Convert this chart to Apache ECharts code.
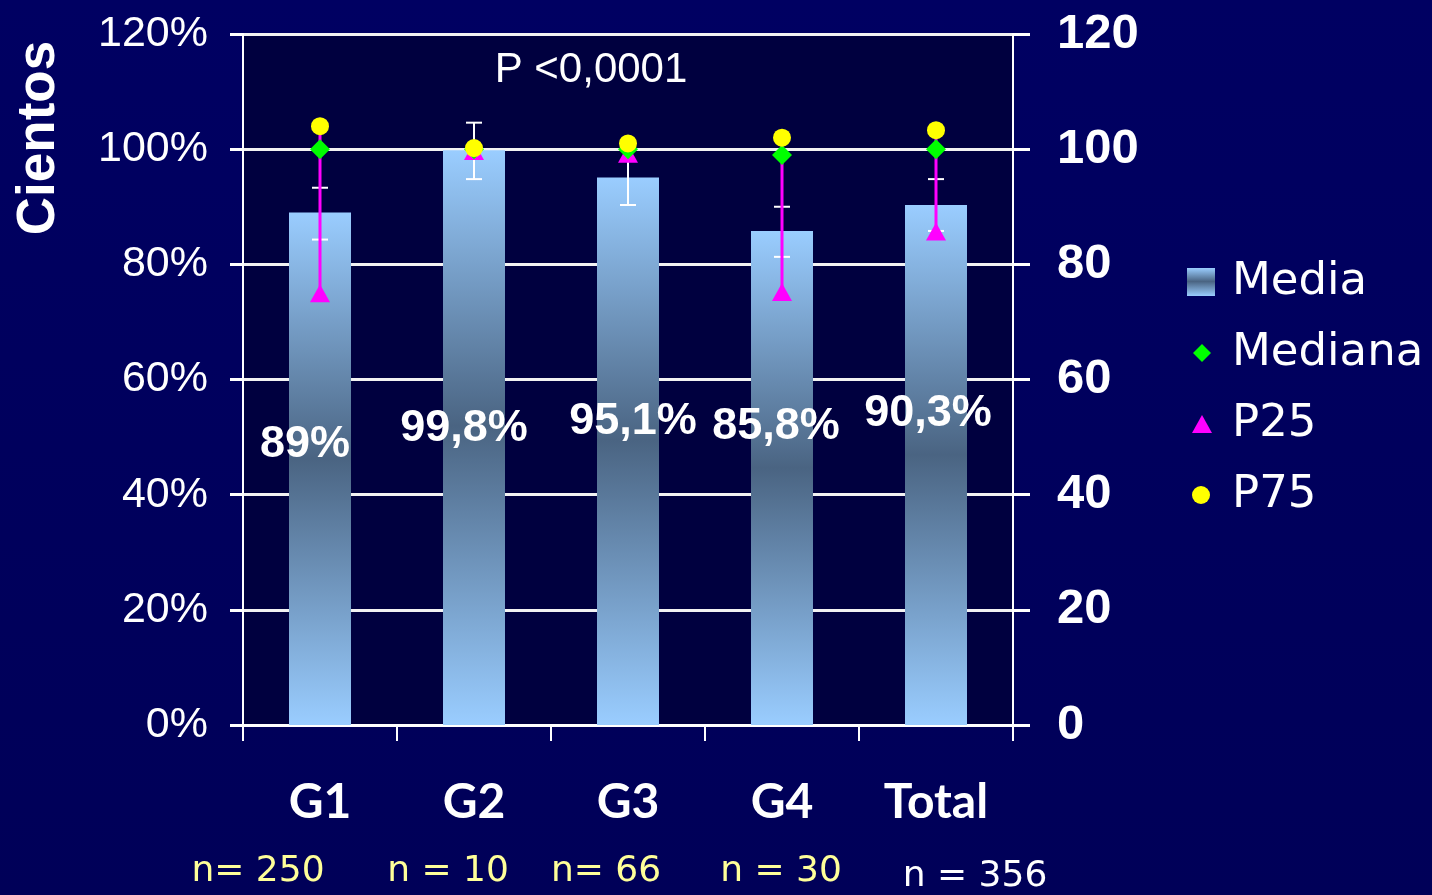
<!DOCTYPE html>
<html>
<head>
<meta charset="utf-8">
<title>Media, Mediana, P25 y P75 por grupo</title>
<script src="https://cdn.jsdelivr.net/npm/echarts@6.0.0/dist/echarts.min.js"></script>
<style>
  html, body { margin: 0; padding: 0; background: #00005c; }
  #chart { width: 1432px; height: 895px; }
</style>
</head>
<body>
<div id="chart"></div>
<script>
// Groups and their values (percent)
const categories = ['G1', 'G2', 'G3', 'G4', 'Total'];
const mediaValues = [89, 99.8, 95.1, 85.8, 90.3];
const errLow = [84.3, 94.8, 90.3, 81.3, 85.8];
const errHigh = [93.3, 104.6, 99.9, 90.0, 94.8];
const medianaValues = [100, 100, 100, 99.0, 100];
const p25Values = [75.0, 99.7, 99.2, 75.2, 85.7];
const p75Values = [104.0, 100.2, 101.0, 102.0, 103.3];
const sampleSizes = ['n= 250', 'n = 10', 'n= 66', 'n = 30', 'n = 356'];
const yTicks = { min: 0, max: 120, interval: 20 };
const pText = 'P <0,0001';
const yName = 'Cientos';

// Label nudges for the mean labels (px, relative to bar centre)
const labelNudge = [[-15, -24], [-10, -9], [5, -30], [-6, -51], [-8, -51]];
// Where the sample-size notes sit under the axis
const samplePos = [[258, 872], [448, 872], [606, 872], [781, 872], [975, 877]];
const sampleColor = ['#ffff99', '#ffff99', '#ffff99', '#ffff99', '#ffffff'];

const SANS = "'Liberation Sans', Arial, sans-serif";
const WIDE = "'DejaVu Sans', 'Liberation Sans', sans-serif";

const barGradient = new echarts.graphic.LinearGradient(0, 0, 0, 1, [
  { offset: 0, color: '#9acdff' },
  { offset: 0.48, color: '#4a6482' },
  { offset: 1, color: '#9acdff' }
]);

function fmtPct(v) {
  return String(v).replace('.', ',') + '%';
}

const chart = echarts.init(document.getElementById('chart'), null, { renderer: 'canvas' });

const option = {
  backgroundColor: new echarts.graphic.LinearGradient(0, 0, 0, 1, [
    { offset: 0, color: '#000062' },
    { offset: 1, color: '#000058' }
  ]),
  animation: false,
  grid: {
    left: 243, right: 419, top: 34, bottom: 170,
    show: true, backgroundColor: '#00003f', borderWidth: 0
  },
  legend: {
    orient: 'vertical',
    left: 1176, top: 252,
    itemWidth: 46, itemHeight: 28, itemGap: 21,
    selectedMode: false,
    textStyle: { color: '#ffffff', fontFamily: WIDE, fontSize: 45, lineHeight: 50 },
    data: [
      { name: 'Media', icon: 'path://M0,0M46,28M6,0L34,0L34,28L6,28Z' },
      { name: 'Mediana', icon: 'path://M0,0M46,28M21,5L30,14L21,23L12,14Z' },
      { name: 'P25', icon: 'path://M0,0M46,28M21,5L31,23L11,23Z' },
      { name: 'P75', icon: 'path://M0,0M46,28M29,14A9,9,0,1,1,11,14A9,9,0,1,1,29,14Z' }
    ]
  },
  xAxis: {
    type: 'category',
    data: categories,
    boundaryGap: true,
    axisLine: { lineStyle: { color: '#ffffff', width: 3 } },
    axisTick: { show: true, interval: 0, length: 16, lineStyle: { color: '#ffffff', width: 2 } },
    axisLabel: {
      color: '#ffffff', fontFamily: 'Lato, ' + SANS, fontWeight: 'bold',
      fontSize: 48, margin: 54, interval: 0
    },
    splitLine: { show: false }
  },
  yAxis: [
    {
      type: 'value', position: 'left',
      min: yTicks.min, max: yTicks.max, interval: yTicks.interval,
      axisLine: { show: true, lineStyle: { color: '#ffffff', width: 2 } },
      axisTick: { show: true, length: 13, lineStyle: { color: '#ffffff', width: 3 } },
      axisLabel: {
        color: '#ffffff', fontFamily: SANS, fontSize: 43, margin: 35,
        formatter: '{value}%'
      },
      splitLine: { show: true, lineStyle: { color: '#f2f2f2', width: 3 } }
    },
    {
      type: 'value', position: 'right',
      min: yTicks.min, max: yTicks.max, interval: yTicks.interval,
      axisLine: { show: true, lineStyle: { color: '#ffffff', width: 2 } },
      axisTick: { show: true, length: 17, lineStyle: { color: '#ffffff', width: 3 } },
      axisLabel: {
        color: '#ffffff', fontFamily: SANS, fontWeight: 'bold', fontSize: 49, margin: 44
      },
      splitLine: { show: false }
    }
  ],
  series: [
    {
      name: 'Media',
      type: 'bar',
      barWidth: 62,
      itemStyle: { color: barGradient },
      data: mediaValues.map((v, i) => ({
        value: v,
        label: { offset: labelNudge[i] }
      })),
      label: {
        show: true,
        position: 'inside',
        color: '#ffffff',
        fontFamily: SANS,
        fontWeight: 'bold',
        fontSize: 45,
        formatter: (p) => fmtPct(p.value)
      },
      z: 2
    },
    {
      name: 'DE',
      type: 'custom',
      data: categories.map((c, i) => [i, errLow[i], errHigh[i]]),
      renderItem: (params, api) => {
        const x = api.value(0);
        const lo = api.coord([x, api.value(1)]);
        const hi = api.coord([x, api.value(2)]);
        const cap = 8;
        const st = { stroke: '#ffffff', lineWidth: 2 };
        return {
          type: 'group',
          children: [
            { type: 'line', shape: { x1: hi[0], y1: hi[1], x2: lo[0], y2: lo[1] }, style: st },
            { type: 'line', shape: { x1: hi[0] - cap, y1: hi[1], x2: hi[0] + cap, y2: hi[1] }, style: st },
            { type: 'line', shape: { x1: lo[0] - cap, y1: lo[1], x2: lo[0] + cap, y2: lo[1] }, style: st }
          ]
        };
      },
      z: 3
    },
    {
      name: 'Rango',
      type: 'custom',
      data: categories.map((c, i) => [i, p25Values[i], p75Values[i]]),
      renderItem: (params, api) => {
        const x = api.value(0);
        const lo = api.coord([x, api.value(1)]);
        const hi = api.coord([x, api.value(2)]);
        return {
          type: 'line',
          shape: { x1: hi[0], y1: hi[1], x2: lo[0], y2: lo[1] },
          style: { stroke: '#ff00ff', lineWidth: 3 }
        };
      },
      z: 4
    },
    {
      name: 'P25',
      type: 'scatter',
      symbol: 'triangle',
      symbolSize: [20, 18],
      itemStyle: { color: '#ff00ff', opacity: 1 },
      data: p25Values,
      z: 5
    },
    {
      name: 'Mediana',
      type: 'scatter',
      symbol: 'diamond',
      symbolSize: 20,
      itemStyle: { color: '#00ff00', opacity: 1 },
      data: medianaValues,
      z: 6
    },
    {
      name: 'P75',
      type: 'scatter',
      symbol: 'circle',
      symbolSize: 18,
      itemStyle: { color: '#ffff00', opacity: 1 },
      data: p75Values,
      z: 7
    }
  ],
  graphic: [
    {
      type: 'text', x: 591, y: 70,
      style: { text: pText, fill: '#ffffff', font: '42px ' + SANS, align: 'center', verticalAlign: 'middle' }
    },
    {
      type: 'text', x: 39, y: 138, rotation: Math.PI / 2,
      style: { text: yName, fill: '#ffffff', font: 'bold 53px ' + SANS, align: 'center', verticalAlign: 'middle' }
    }
  ].concat(sampleSizes.map((t, i) => ({
    type: 'text', x: samplePos[i][0], y: samplePos[i][1],
    style: { text: t, fill: sampleColor[i], font: '36px ' + WIDE, align: 'center', verticalAlign: 'middle' }
  })))
};

chart.setOption(option);
</script>
</body>
</html>
